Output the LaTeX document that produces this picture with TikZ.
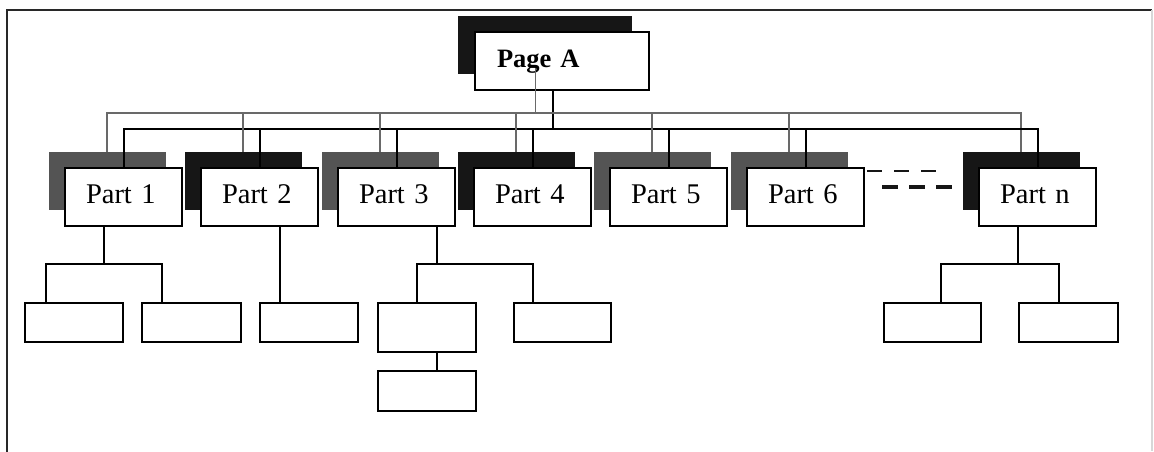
\documentclass[tikz,border=0pt]{standalone}
\usepackage{fontspec}
\setmainfont{Liberation Serif}
\newfontfamily\tightserif[WordSpace=0.4]{Liberation Serif}
\usetikzlibrary{calc}
\definecolor{shadegray}{RGB}{84,84,84}
\definecolor{shadeblack}{RGB}{22,22,22}
\definecolor{busgray}{RGB}{105,105,105}
\definecolor{framegray}{RGB}{40,40,40}
\definecolor{edgegray}{RGB}{215,215,215}
\begin{document}
\begin{tikzpicture}[x=1pt,y=-1pt,
  every node/.style={inner sep=0pt,outer sep=0pt},
  shadebox/.style={anchor=north west,minimum width=117pt,minimum height=58pt,fill=#1},
  partbox/.style={anchor=north west,draw=black,fill=white,line width=2pt,
    minimum height=58pt,text width=75pt,inner xsep=21pt,align=left,text depth=5pt,
    font=\tightserif\fontsize{28.5}{32}\selectfont},
  leaf/.style={anchor=north west,draw=black,line width=2pt,
    minimum width=98pt,minimum height=39pt},
  bus/.style={draw=black,line width=2pt},
  thinbus/.style={draw=busgray,line width=1.2pt},
  link/.style={draw=black,line width=2pt},
  framerule/.style={draw=framegray,line width=2pt},
  dashrow/.style={draw=shadeblack,line width=2pt,dash pattern=on 15pt off 12pt},
  dashrowbold/.style={draw=shadeblack,line width=3.5pt,dash pattern=on 16pt off 11pt}
]
\useasboundingbox (0,0) rectangle (1154,451);
\fill[white] (0,0) rectangle (1154,451);

% frame
\draw[framerule] (7,455) -- (7,10) -- (1152,10);
\draw[draw=edgegray,line width=1.5pt] (1152,10) -- (1152,451);

% top page with its shadow
\node[shadebox=shadeblack,minimum width=174pt] (pAs) at (458,16) {};
\node[partbox,text width=130pt,inner xsep=22pt,
      font=\tightserif\fontsize{26.5}{32}\selectfont\bfseries] (pA) at (475,32) {Page A};

% second level: shadows first, then white boxes
\foreach \n/\x/\c in {1/65/shadegray,2/201/shadeblack,3/338/shadegray,4/474/shadeblack,
                      5/610/shadegray,6/747/shadegray,n/979/shadeblack}{
  \node[shadebox=\c] (s\n) at (\x-16.5,151.5) {};
  \node[partbox] (p\n) at (\x,168) {Part \n};
}

% bus rows
\coordinate (sb) at (0,113);
\coordinate (mb) at (0,129);
\coordinate (pAt) at ($(pAs.south)+(-9.5,-6)$);
\coordinate (pAm) at ($(pA.south)+(-9,0)$);
\draw[thinbus] (pAt) -- (pAt |- sb);
\draw[bus] (pAm) -- (pAm |- mb);
\draw[thinbus] (s1.north) -- (s1.north |- sb) -- (sn.north |- sb) -- (sn.north);
\draw[bus] (p1.north) -- (p1.north |- mb) -- (pn.north |- mb) -- (pn.north);
\foreach \n in {2,3,4,5,6}{
  \draw[thinbus] (s\n.north |- sb) -- (s\n.north);
  \draw[bus] (p\n.north |- mb) -- (p\n.north);
}

% gap between part 6 and part n
\draw[dashrow] ($(p6.north east)+(3,3)$) -- ($(pn.north west)+(-42,3)$);
\draw[dashrowbold] ($(p6.north east)+(18,19)$) -- ($(pn.north west)+(-26,19)$);

% third level boxes
\node[leaf] (c11) at (25,303) {};
\node[leaf,minimum width=99pt] (c12) at (142,303) {};
\node[leaf] (c21) at (260,303) {};
\node[leaf,minimum height=49pt] (c31) at (378,303) {};
\node[leaf,minimum height=40pt] (c32) at (378,371) {};
\node[leaf,minimum width=97pt] (c33) at (514,303) {};
\node[leaf,minimum width=97pt] (cn1) at (884,303) {};
\node[leaf,minimum width=99pt] (cn2) at (1019,303) {};

% branch points
\coordinate (j1) at (104,264);
\coordinate (k11) at (46,264);
\coordinate (k12) at (162,264);
\coordinate (j2) at (280,264);
\coordinate (j3) at (437,264);
\coordinate (k31) at (417,264);
\coordinate (k33) at (533,264);
\coordinate (jn) at (1018,264);
\coordinate (kn1) at (941,264);
\coordinate (kn2) at (1059,264);

% connectors to the third level
\draw[link] (p1.south -| j1) -- (j1);
\draw[link] (c11.north -| k11) -- (k11) -- (k12) -- (c12.north -| k12);
\draw[link] (p2.south -| j2) -- (c21.north -| j2);
\draw[link] (p3.south -| j3) -- (j3);
\draw[link] (c31.north -| k31) -- (k31) -- (k33) -- (c33.north -| k33);
\draw[link] (c31.south -| j3) -- (c32.north -| j3);
\draw[link] (pn.south -| jn) -- (jn);
\draw[link] (cn1.north -| kn1) -- (kn1) -- (kn2) -- (cn2.north -| kn2);
\end{tikzpicture}
\end{document}
